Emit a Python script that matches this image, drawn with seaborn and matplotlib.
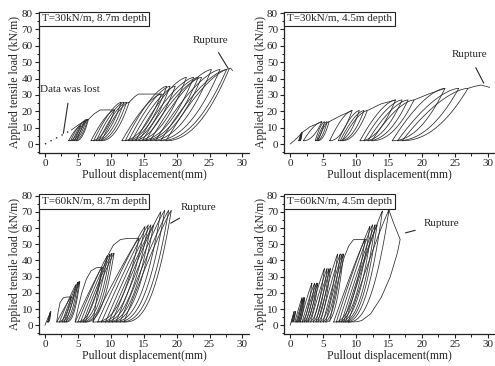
import numpy as np
import pandas as pd
import matplotlib
matplotlib.use("Agg")
import matplotlib.pyplot as plt
from matplotlib.ticker import MultipleLocator
import seaborn as sns

sns.set_theme(style="ticks")
plt.rcParams["font.family"] = ["Liberation Serif", "DejaVu Serif"]

# ---------------- data ----------------
titles = ["T=30kN/m, 8.7m depth", "T=30kN/m, 4.5m depth",
          "T=60kN/m, 8.7m depth", "T=60kN/m, 4.5m depth"]
x_ticks = [0, 5, 10, 15, 20, 25, 30]
y_ticks = [0, 10, 20, 30, 40, 50, 60, 70, 80]
y_low = 2.0  # unloading level of every cycle

# Panel A: T=30, 8.7 m
A_lost_x = [0.0, 4.0]
A_lost_y = [0.0, 8.5]
A_env_x = [[4.0, 5.2, 6.6], [6.6, 7.5, 8.4, 10.6], [12.8, 13.6, 14.2, 17.7], [28.0, 28.2, 28.5]]
A_env_y = [[8.5, 12.0, 15.0], [15.0, 18.5, 20.8, 20.8], [25.5, 28.8, 30.5, 30.5], [46.0, 46.4, 44.8]]
A_xl = [3.6, 3.9, 4.2, 4.5, 4.8, 7.0, 7.4, 7.8, 8.2, 8.6, 11.7, 12.2, 12.7, 13.2,
        13.8, 14.3, 14.8, 15.3, 16.0, 16.8, 17.6, 18.4]
A_xp = [5.4, 6.0, 6.3, 6.5, 6.6, 10.6, 11.6, 12.0, 12.4, 12.8, 17.7, 18.5, 19.0, 19.8,
        21.5, 22.6, 23.3, 23.8, 25.3, 26.6, 27.6, 28.0]
A_yp = [11, 14, 15, 15, 15, 20.8, 25.5, 25.5, 25.5, 25.5, 30.5, 35.3, 35.3, 35.3,
        40.7, 40.7, 40.7, 40.7, 45.5, 45.5, 45.5, 46.0]

# Panel B: T=30, 4.5 m
B_env_x = [[0.0, 1.0, 1.8, 3.0, 4.8], [5.9, 7.5, 9.4], [11.7, 13.8, 16.0],
           [18.8, 21.0, 23.5], [27.0, 28.0, 29.0, 30.3]]
B_env_y = [[0.0, 3.5, 7.0, 10.5, 13.6], [13.6, 17.0, 20.4], [20.4, 24.5, 26.9],
           [26.9, 30.5, 34.0], [34.0, 35.2, 36.0, 34.6]]
B_xl = [1.3, 1.4, 1.5, 2.0, 3.8, 4.0, 4.2, 6.0, 7.3, 7.6, 7.9, 10.6, 11.2, 11.8, 12.4,
        15.5, 16.3, 17.0]
B_xp = [1.7, 1.8, 1.8, 4.8, 5.2, 5.6, 5.9, 9.4, 10.5, 11.2, 11.7, 16.0, 17.0, 17.9, 18.8,
        23.5, 25.6, 27.0]
B_yp = [6.5, 7, 7, 13.6, 13.6, 13.6, 13.6, 20.4, 20.4, 20.4, 20.4, 26.9, 26.9, 26.9, 26.9,
        34, 34, 34]

# Panel C: T=60, 8.7 m
C_env_x = [[0.0, 0.4, 0.9], [1.8, 2.0, 2.3, 2.8, 3.3, 4.0],
           [4.6, 5.0, 5.6, 6.3, 7.0, 7.8, 8.7],
           [7.3, 7.8, 8.5, 9.4, 10.4, 11.5, 12.5, 14.3]]
C_env_y = [[0.0, 4.0, 8.5], [2.2, 8.0, 14.0, 17.0, 17.4, 17.5],
           [2.2, 10.0, 20.0, 28.5, 33.5, 35.5, 35.8],
           [2.2, 15.0, 30.0, 42.0, 49.5, 53.0, 53.5, 53.7]]
C_xl = [0.4, 0.5, 1.8, 2.2, 2.6, 2.9, 3.2, 4.6, 5.0, 5.4, 5.8, 6.1,
        7.3, 8.0, 8.6, 9.2, 9.7, 10.2, 10.8, 11.4, 12.0]
C_xp = [0.8, 0.9, 4.0, 4.7, 5.0, 5.2, 5.3, 8.7, 9.5, 9.9, 10.2, 10.5,
        14.3, 15.2, 15.7, 16.1, 16.5, 17.6, 18.2, 18.8, 19.2]
C_yp = [8, 8.5, 17.5, 25, 26.5, 27, 27, 35.8, 43, 44, 44.5, 44.5,
        53.7, 61, 62, 62, 62, 70, 71, 71, 71]

# Panel D: T=60, 4.5 m
D_env_x = [[0.0, 0.3, 0.6], [6.0, 6.6, 7.3, 8.2, 8.9, 9.6, 11.4],
           [15.0, 15.8, 16.7, 16.3, 15.2, 13.8, 12.2, 10.9, 10.2, 8.8]]
D_env_y = [[0.0, 4.5, 8.5], [2.2, 15.0, 28.0, 42.0, 49.0, 52.8, 53.0],
           [71.0, 62.0, 53.0, 45.0, 30.0, 17.0, 7.0, 3.0, 2.2, 2.0]]
D_xl = [0.2, 0.4, 0.7, 0.9, 1.1, 1.3, 1.5, 1.8, 2.1, 2.4, 2.7, 3.1, 3.5, 3.9,
        4.2, 4.6, 5.0, 5.4, 6.6, 7.0, 7.4, 7.8, 8.1, 8.4, 8.8]
D_xp = [0.6, 0.8, 1.8, 2.0, 2.1, 2.2, 3.3, 3.7, 4.0, 4.2, 5.2, 5.6, 5.9, 6.1,
        7.2, 7.6, 7.9, 8.1, 11.4, 12.1, 12.5, 12.9, 13.2, 14.0, 15.0]
D_yp = [8.5, 8.5, 17, 17, 17, 17, 26, 26, 26, 26, 35, 35, 35, 35,
        44, 44, 44, 44, 53, 61, 62, 62, 62, 70.5, 71]

# annotations (text x, y, arrow-tip x, y)
ann_text = ["Rupture", "Rupture", "Rupture", "Rupture"]
ann_xy_text = [(25.2, 63.5), (27.2, 54.4), (23.3, 72.6), (23.0, 63.0)]
ann_xy_tip = [(27.8, 46.4), (29.4, 37.1), (19.1, 63.0), (17.5, 57.0)]
lost_text = "Data was lost"
lost_xy_text = (3.8, 33.0)
lost_xy_tip = (2.8, 6.5)

# ---------------- drawing ----------------
LINE = "#2a2a2a"


def build_frame(env_x, env_y, xl, xp, yp, pu, pl):
    rows = []
    seg = 0
    for ex, ey in zip(env_x, env_y):
        for a, b in zip(ex, ey):
            rows.append((a, b, seg))
        seg += 1
    t = np.linspace(0, 1, 40)
    for a, b, c in zip(xl, xp, yp):
        xx = a + (b - a) * t
        up = y_low + (c - y_low) * (1 - (1 - t) ** pu)
        lo = y_low + (c - y_low) * t ** pl
        xs = np.concatenate([xx, xx[::-1]])
        ys = np.concatenate([up, lo[::-1]])
        for p, q in zip(xs, ys):
            rows.append((p, q, seg))
        seg += 1
    return pd.DataFrame(rows, columns=["x", "y", "seg"])


panels = [
    (A_env_x, A_env_y, A_xl, A_xp, A_yp, 1.5, 2.1),
    (B_env_x, B_env_y, B_xl, B_xp, B_yp, 1.6, 2.1),
    (C_env_x, C_env_y, C_xl, C_xp, C_yp, 1.1, 2.6),
    (D_env_x, D_env_y, D_xl, D_xp, D_yp, 1.1, 2.4),
]

W, H = 495, 366
fig = plt.figure(figsize=(W / 100, H / 100), dpi=100)
fig.patch.set_facecolor("white")
rects = [
    [39 / W, 0.5828, 210 / W, 0.3839],
    [284.3 / W, 0.5828, 210 / W, 0.3839],
    [39 / W, 0.0874, 210 / W, 0.3803],
    [284.3 / W, 0.0874, 210 / W, 0.3803],
]
ylims = [(-5.3, 80.5), (-5.3, 80.5), (-5.4, 80.5), (-5.4, 80.5)]

for i, (rect, pdata) in enumerate(zip(rects, panels)):
    ax = fig.add_axes(rect)
    df = build_frame(*pdata)
    sns.lineplot(data=df, x="x", y="y", units="seg", estimator=None, sort=False,
                 color=LINE, lw=0.55, ax=ax, legend=False)
    if i == 0:
        sns.lineplot(x=A_lost_x, y=A_lost_y, color=LINE, lw=1.0,
                     linestyle=(0, (1, 3.5)), ax=ax, legend=False)
        ax.annotate(lost_text, xy=lost_xy_tip, xytext=lost_xy_text,
                    ha="center", va="center", fontsize=8,
                    arrowprops=dict(arrowstyle="-", color=LINE, lw=0.8,
                                    shrinkA=4, shrinkB=0))
    ax.annotate(ann_text[i], xy=ann_xy_tip[i], xytext=ann_xy_text[i],
                ha="center", va="center", fontsize=8,
                arrowprops=dict(arrowstyle="-", color=LINE, lw=0.8,
                                shrinkA=4, shrinkB=0))
    ax.set_xlim(-0.9, 31.0)
    ax.set_ylim(*ylims[i])
    ax.set_xticks(x_ticks)
    ax.set_yticks(y_ticks)
    ax.xaxis.set_minor_locator(MultipleLocator(2.5))
    ax.yaxis.set_minor_locator(MultipleLocator(5))
    ax.tick_params(which="major", direction="out", length=3.0, width=0.8,
                   labelsize=8, pad=1.5, colors="#222222")
    ax.tick_params(which="minor", direction="out", length=1.8, width=0.7, colors="#222222")
    for s in ["top", "right"]:
        ax.spines[s].set_visible(False)
    for s in ["left", "bottom"]:
        ax.spines[s].set_linewidth(0.9)
        ax.spines[s].set_color("#222222")
    ax.set_facecolor("white")
    ax.set_xlabel("Pullout displacement(mm)", fontsize=8.5, labelpad=0.8)
    ax.set_ylabel("Applied tensile load (kN/m)", fontsize=8.5, labelpad=0.3)
    ax.text(0.012, 0.985, titles[i], transform=ax.transAxes, ha="left", va="top",
            fontsize=8,
            bbox=dict(boxstyle="square,pad=0.25", fc="white", ec="#222222", lw=0.8))

fig.savefig("out.png", dpi=100, facecolor="white")
